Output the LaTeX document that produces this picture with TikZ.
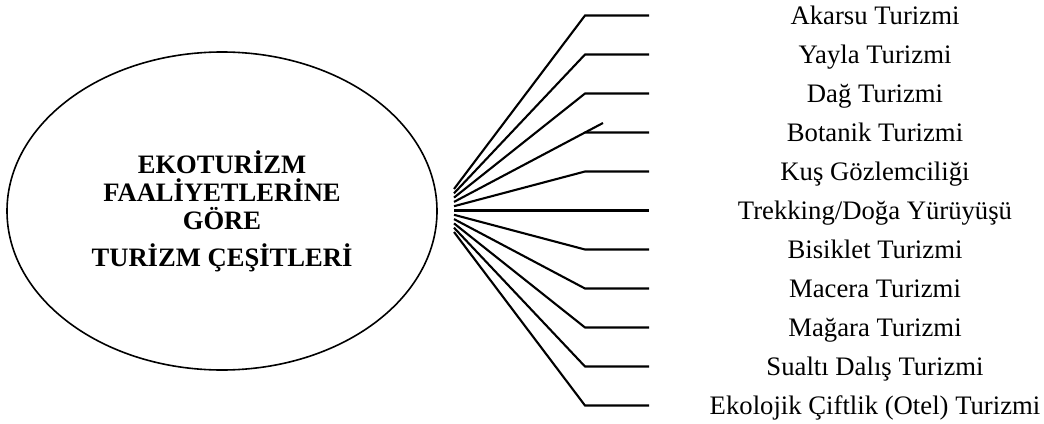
\documentclass[tikz,border=0pt]{standalone}
\usepackage{fontspec}
\setmainfont{Liberation Serif}
\usetikzlibrary{shapes.geometric}
\begin{document}
\begin{tikzpicture}[x=1pt,y=-1pt,
  fan/.style={line width=2.1pt},
  hub/.style={ellipse, draw, line width=1.6pt, minimum width=430pt, minimum height=318pt, align=center, inner sep=0pt,
    font=\bfseries\fontsize{26.6}{28}\selectfont},
  item/.style={font=\fontsize{26.7}{30}\selectfont, anchor=base, inner sep=0pt}]
\useasboundingbox (0,0) rectangle (1044,423);
\node[hub] (hub) at (222,211) {EKOTURİZM\\FAALİYETLERİNE\\GÖRE\\[9pt]TURİZM ÇEŞİTLERİ};
\foreach \i in {0,...,10}{
  \coordinate (o\i) at (454,189+4.3*\i);
  \coordinate (c\i) at (585,15.5+39*\i);
  \coordinate (h\i) at (649,15.5+39*\i);
  \draw[fan] (o\i) -- (c\i) -- (h\i);
}
\coordinate (x3) at (603,123);
\draw[fan] (c3) -- (x3);
\foreach \t [count=\i from 0] in {Akarsu Turizmi, Yayla Turizmi, Dağ Turizmi, Botanik Turizmi, Kuş Gözlemciliği, Trekking/Doğa Yürüyüşü, Bisiklet Turizmi, Macera Turizmi, Mağara Turizmi, Sualtı Dalış Turizmi, Ekolojik Çiftlik (Otel) Turizmi}
  \node[item] (t\i) at (875,24.5+39*\i) {\t};
\end{tikzpicture}
\end{document}
